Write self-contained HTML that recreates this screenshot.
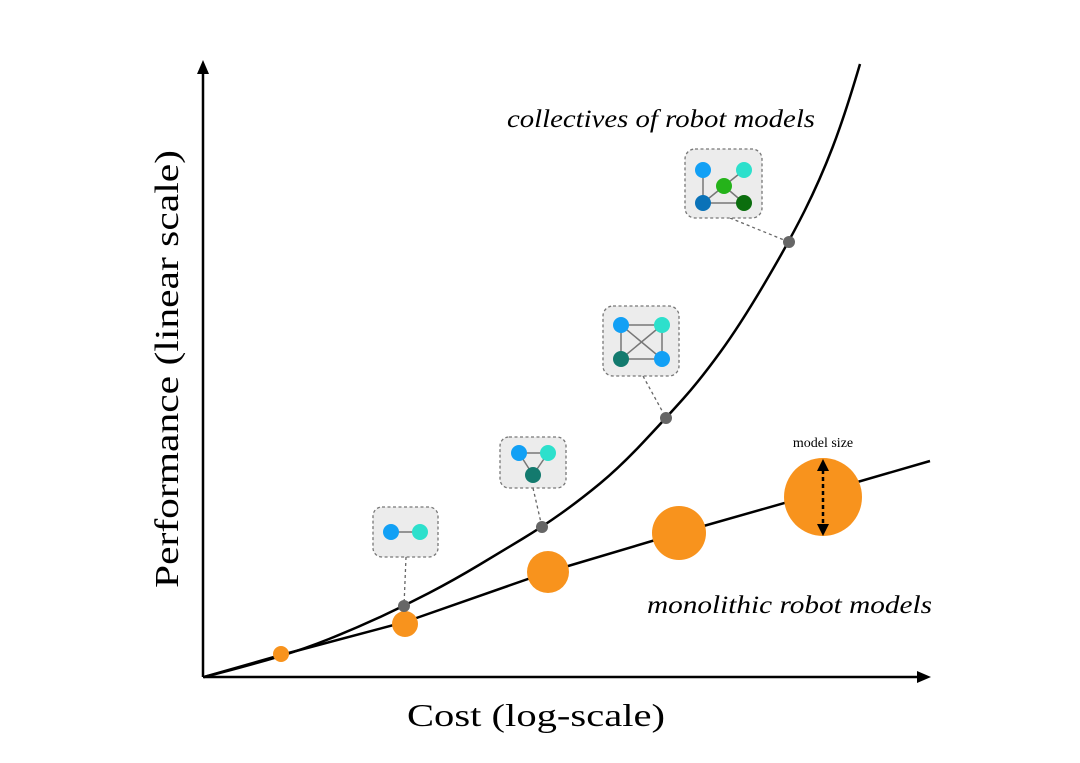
<!DOCTYPE html>
<html><head><meta charset="utf-8"><style>html,body{margin:0;padding:0;background:#fff}svg{display:block}</style></head>
<body>
<svg width="1080" height="763" viewBox="0 0 1080 763" xmlns="http://www.w3.org/2000/svg" font-family="'Liberation Serif', serif">
<rect width="1080" height="763" fill="#fff"/>
<!-- axes -->
<line x1="203" y1="677" x2="203" y2="72" stroke="#000" stroke-width="2.5"/>
<polygon points="203,60 197,74 209,74" fill="#000"/>
<line x1="203" y1="677" x2="918" y2="677" stroke="#000" stroke-width="2.5"/>
<polygon points="931,677 917,671 917,683" fill="#000"/>
<!-- curves -->
<path fill="none" stroke="#000" stroke-width="2.5" d="M204,677 L229,670.5 Q254,664 279,656.5 Q304,649 329,639 Q354,629 379,617.5 Q404,606 429,593 Q454,580 479,565 Q504,550 523,538.5 Q542,527 561,513.5 Q580,500 600,483.5 Q620,467 643,442.5 Q666,418 683,399 Q700,380 720,352.5 Q740,325 764.5,283.5 Q789,242 804.5,211 Q820,180 832.5,147.5 Q845,115 860,64"/>
<polyline fill="none" stroke="#000" stroke-width="2.5" stroke-linejoin="round" points="204,677 281,655 405,622 548,572 679,533 823,492 930,461"/>
<!-- orange circles -->
<g fill="#f8931d">
<circle cx="281" cy="654" r="8"/>
<circle cx="405" cy="624" r="13"/>
<circle cx="548" cy="572" r="21"/>
<circle cx="679" cy="533" r="27"/>
<circle cx="823" cy="497" r="39"/>
</g>
<!-- model size arrow -->
<line x1="823" y1="470" x2="823" y2="524" stroke="#000" stroke-width="2.5" stroke-dasharray="4,3"/>
<polygon points="823,459 817,471 829,471" fill="#000"/>
<polygon points="823,536 817,524 829,524" fill="#000"/>
<text x="823" y="447" font-size="14" text-anchor="middle">model size</text>
<!-- dotted connectors -->
<g stroke="#666" stroke-width="1.3" stroke-dasharray="3,3" fill="none">
<line x1="406" y1="557" x2="404" y2="606"/>
<line x1="533" y1="488" x2="542" y2="527"/>
<line x1="643" y1="376" x2="666" y2="418"/>
<line x1="730" y1="218" x2="789" y2="242"/>
</g>
<!-- boxes -->
<g fill="#ececec" stroke="#777" stroke-width="1.3" stroke-dasharray="3,2.5">
<rect x="373" y="507" width="65" height="50" rx="9"/>
<rect x="500" y="437" width="66" height="51" rx="9"/>
<rect x="603" y="306" width="76" height="70" rx="10"/>
<rect x="685" y="149" width="77" height="69" rx="10"/>
</g>
<g stroke="#777" stroke-width="1.5">
<line x1="391" y1="532" x2="420" y2="532"/>
<line x1="519" y1="453" x2="548" y2="453"/><line x1="519" y1="453" x2="533" y2="475"/><line x1="548" y1="453" x2="533" y2="475"/>
<line x1="621" y1="325" x2="662" y2="325"/><line x1="621" y1="325" x2="621" y2="359"/><line x1="662" y1="325" x2="662" y2="359"/><line x1="621" y1="359" x2="662" y2="359"/><line x1="621" y1="325" x2="662" y2="359"/><line x1="662" y1="325" x2="621" y2="359"/>
<line x1="703" y1="170" x2="703" y2="203"/><line x1="703" y1="203" x2="744" y2="203"/><line x1="703" y1="203" x2="724" y2="186"/><line x1="724" y1="186" x2="744" y2="203"/><line x1="724" y1="186" x2="744" y2="170"/>
</g>
<g>
<circle cx="391" cy="532" r="8" fill="#12a0f5"/><circle cx="420" cy="532" r="8" fill="#2de0cc"/>
<circle cx="519" cy="453" r="8" fill="#12a0f5"/><circle cx="548" cy="453" r="8" fill="#2de0cc"/><circle cx="533" cy="475" r="8" fill="#137a6e"/>
<circle cx="621" cy="325" r="8" fill="#12a0f5"/><circle cx="662" cy="325" r="8" fill="#2de0cc"/><circle cx="621" cy="359" r="8" fill="#137a6e"/><circle cx="662" cy="359" r="8" fill="#12a0f5"/>
<circle cx="703" cy="170" r="8" fill="#12a0f5"/><circle cx="744" cy="170" r="8" fill="#2de0cc"/><circle cx="724" cy="186" r="8" fill="#25b31a"/><circle cx="703" cy="203" r="8" fill="#0a72b8"/><circle cx="744" cy="203" r="8" fill="#0b6e0e"/>
</g>
<!-- gray dots -->
<g fill="#666">
<circle cx="404" cy="606" r="6"/><circle cx="542" cy="527" r="6"/><circle cx="666" cy="418" r="6"/><circle cx="789" cy="242" r="6"/>
</g>
<!-- labels -->
<text x="507" y="127" font-size="25" font-style="italic" textLength="308" lengthAdjust="spacingAndGlyphs">collectives of robot models</text>
<text x="647" y="613" font-size="25" font-style="italic" textLength="285" lengthAdjust="spacingAndGlyphs">monolithic robot models</text>
<text x="407" y="726" font-size="32" textLength="258" lengthAdjust="spacingAndGlyphs">Cost (log-scale)</text>
<text transform="translate(178,588) rotate(-90)" font-size="34" textLength="438" lengthAdjust="spacingAndGlyphs">Performance (linear scale)</text>
</svg>
</body></html>
